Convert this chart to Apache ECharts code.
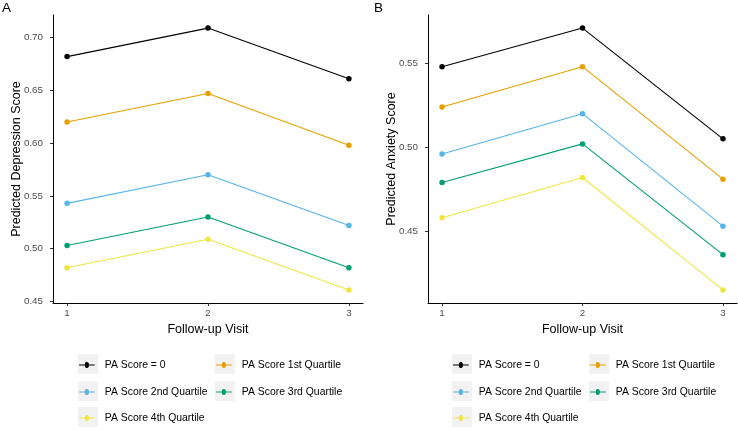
<!DOCTYPE html>
<html>
<head>
<meta charset="utf-8">
<script src="https://cdn.jsdelivr.net/npm/echarts@6/dist/echarts.min.js"></script>
<style>html,body{margin:0;padding:0;background:#fff}#c{width:738px;height:430px}</style>
</head>
<body>
<div id="c"></div>
<script>
var visits = [1, 2, 3];
var seriesNames = ['PA Score = 0', 'PA Score 1st Quartile', 'PA Score 2nd Quartile', 'PA Score 3rd Quartile', 'PA Score 4th Quartile'];
var seriesColors = ['#000000', '#E69F00', '#56B4E9', '#009E73', '#F0E442'];

// Panel A: Predicted Depression Score
var depPA0 = [0.682, 0.709, 0.661];
var depQ1 = [0.620, 0.647, 0.598];
var depQ2 = [0.543, 0.570, 0.522];
var depQ3 = [0.503, 0.530, 0.482];
var depQ4 = [0.482, 0.509, 0.461];
var depTicks = [0.45, 0.50, 0.55, 0.60, 0.65, 0.70];

// Panel B: Predicted Anxiety Score
var anxPA0 = [0.548, 0.571, 0.505];
var anxQ1 = [0.524, 0.548, 0.481];
var anxQ2 = [0.496, 0.520, 0.453];
var anxQ3 = [0.479, 0.502, 0.436];
var anxQ4 = [0.458, 0.482, 0.415];
var anxTicks = [0.45, 0.50, 0.55];

var depData = [depPA0, depQ1, depQ2, depQ3, depQ4];
var anxData = [anxPA0, anxQ1, anxQ2, anxQ3, anxQ4];

function pad(arr, f) {
  var all = [].concat.apply([], arr);
  var mn = Math.min.apply(null, all), mx = Math.max.apply(null, all);
  var e = (mx - mn) * f;
  return [mn - e, mx + e];
}
var depExt = pad(depData, 0.05);
var anxExt = pad(anxData, 0.05);

var axisColor = '#000000';
var labelColor = '#4D4D4D';
var font = 'Liberation Sans, Arial, Helvetica, sans-serif';

function xAxis(idx) {
  return {
    type: 'value', gridIndex: idx, min: 0.9, max: 3.1,
    name: 'Follow-up Visit', nameLocation: 'middle', nameGap: 20, nameMoveOverlap: false,
    nameTextStyle: { color: '#000', fontSize: 12.5, fontFamily: font },
    axisLine: { show: true, lineStyle: { color: axisColor, width: 1 } },
    axisTick: { show: true, length: 3, lineStyle: { color: '#333', width: 1 }, customValues: visits },
    axisLabel: { color: labelColor, fontSize: 9.8, fontFamily: font, margin: 5, customValues: visits, formatter: function (v) { return String(v); } },
    splitLine: { show: false }
  };
}
function yAxis(idx, ext, ticks, name) {
  return {
    type: 'value', gridIndex: idx, min: ext[0], max: ext[1],
    name: name, nameLocation: 'middle', nameGap: 30, nameMoveOverlap: false,
    nameTextStyle: { color: '#000', fontSize: 12.5, fontFamily: font },
    axisLine: { show: true, lineStyle: { color: axisColor, width: 1 } },
    axisTick: { show: true, length: 3, lineStyle: { color: '#333', width: 1 }, customValues: ticks },
    axisLabel: { color: labelColor, fontSize: 9.8, fontFamily: font, margin: 10, customValues: ticks, formatter: function (v) { return v.toFixed(2); } },
    splitLine: { show: false }
  };
}

var series = [];
seriesNames.forEach(function (n, i) {
  [depData, anxData].forEach(function (d, g) {
    series.push({
      name: n, type: 'line', xAxisIndex: g, yAxisIndex: g,
      data: visits.map(function (v, k) { return [v, d[i][k]]; }),
      symbol: 'circle', symbolSize: 5.5, showSymbol: true,
      lineStyle: { color: seriesColors[i], width: 1.1 },
      itemStyle: { color: seriesColors[i] },
      z: 10 - i, animation: false, silent: true
    });
  });
});

// legend layout (two panels, two columns)
var legendPos = [
  [[79, 364], [216, 364], [79, 391], [216, 391], [79, 417]],
  [[453, 364], [590, 364], [453, 391], [590, 391], [453, 417]]
];
var legendIcon = 'path://M0,6.5 L7.5,6.5 A2.6,2.6 0 1 1 12.5,6.5 L20,6.5 L20,7.5 L12.5,7.5 A2.6,2.6 0 1 1 7.5,7.5 L0,7.5 Z';
var legends = [];
var graphics = [];
legendPos.forEach(function (panel) {
  panel.forEach(function (p, i) {
    legends.push({
      data: [seriesNames[i]], left: p[0], top: p[1] - 4, itemWidth: 18, itemHeight: 6, itemGap: 6,
      icon: legendIcon,
      padding: 0, textStyle: { color: '#000', fontSize: 10.4, fontFamily: font, padding: [0, 0, 0, 4] },
      selectedMode: false
    });
    graphics.push({ type: 'rect', left: p[0] - 1, top: p[1] - 10, shape: { width: 20, height: 20 }, style: { fill: '#F2F2F2' }, z: -1, silent: true });
  });
});
graphics.push({ type: 'text', left: 2, top: 1, style: { text: 'A', fontSize: 13.5, fontFamily: font, fill: '#000' } });
graphics.push({ type: 'text', left: 374, top: 1, style: { text: 'B', fontSize: 13.5, fontFamily: font, fill: '#000' } });

var option = {
  backgroundColor: '#ffffff',
  animation: false,
  grid: [
    { left: 53, top: 15, width: 310, height: 288 },
    { left: 428, top: 15, width: 309, height: 288 }
  ],
  xAxis: [xAxis(0), xAxis(1)],
  yAxis: [yAxis(0, depExt, depTicks, 'Predicted Depression Score'), yAxis(1, anxExt, anxTicks, 'Predicted Anxiety Score')],
  legend: legends,
  graphic: graphics,
  series: series
};
var chart = echarts.init(document.getElementById('c'), null, { renderer: 'canvas' });
chart.setOption(option);
</script>
</body>
</html>
